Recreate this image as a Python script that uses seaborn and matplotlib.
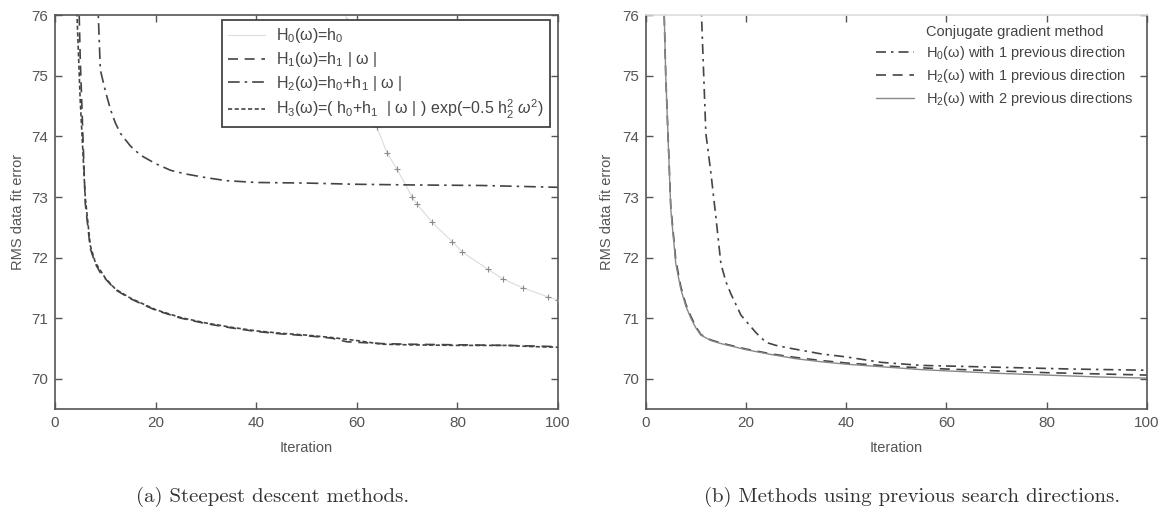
import matplotlib
matplotlib.use("Agg")
import matplotlib.pyplot as plt
from matplotlib.lines import Line2D
import seaborn as sns
import pandas as pd

# (a) steepest descent, RMS data fit error per iteration
it_h0 = [56, 58, 60, 62, 64, 66, 68, 71, 72, 75, 79, 81, 86, 89, 93, 98, 100]
rms_h0 = [76.8, 75.9, 75.2, 74.6, 74.15, 73.73, 73.46, 73.0, 72.88, 72.58, 72.26,
          72.09, 71.81, 71.65, 71.5, 71.35, 71.3]

it_h1 = [4, 5, 6, 7, 8, 9, 10, 12, 15, 20, 25, 30, 35, 40, 45, 50, 55, 58, 65, 70, 80, 90, 100]
rms_h1 = [78.8, 75.3, 72.9, 72.15, 71.9, 71.75, 71.65, 71.47, 71.32, 71.13, 71.0, 70.91,
          70.84, 70.78, 70.74, 70.71, 70.67, 70.61, 70.58, 70.57, 70.56, 70.55, 70.53]

it_h2 = [8, 9, 10, 11, 12, 13, 15, 17, 20, 23, 26, 30, 34, 40, 50, 60, 70, 85, 100]
rms_h2 = [77.35, 75.1, 74.75, 74.45, 74.22, 74.05, 73.84, 73.69, 73.55, 73.44, 73.38,
          73.32, 73.27, 73.24, 73.23, 73.21, 73.2, 73.19, 73.16]

it_h3 = [4, 5, 6, 7, 8, 10, 12, 15, 20, 25, 30, 35, 40, 45, 50, 55, 60, 65, 70, 80, 90, 95, 100]
rms_h3 = [76.8, 74.6, 73.0, 72.2, 71.92, 71.66, 71.48, 71.33, 71.14, 71.01, 70.92, 70.85,
          70.79, 70.75, 70.72, 70.68, 70.63, 70.57, 70.56, 70.55, 70.55, 70.53, 70.52]

labels_a = ["$\\mathrm{H}_0$(ω)=$\\mathrm{h}_0$",
            "$\\mathrm{H}_1$(ω)=$\\mathrm{h}_1$ | ω |",
            "$\\mathrm{H}_2$(ω)=$\\mathrm{h}_0$+$\\mathrm{h}_1$ | ω |",
            "$\\mathrm{H}_3$(ω)=( $\\mathrm{h}_0$+$\\mathrm{h}_1$  | ω | ) exp(−0.5 $\\mathrm{h}_2^2$ $\\omega^2$)"]

# (b) methods using previous search directions
it_cg0 = [10, 11, 12, 13, 14, 15, 16, 17, 19, 22, 24, 26, 29, 35, 40, 47, 55, 70, 85, 100]
rms_cg0 = [80.0, 76.3, 74.05, 73.4, 72.67, 71.9, 71.6, 71.4, 71.05, 70.76, 70.6, 70.55,
           70.5, 70.41, 70.36, 70.27, 70.22, 70.19, 70.16, 70.14]

it_cg2 = [3, 4, 5, 6, 7, 8, 9, 10, 11, 13, 15, 17, 20, 25, 30, 35, 40, 45, 50, 55, 60, 70, 80, 90, 100]
rms_cg2a = [78.25, 75.0, 72.85, 71.96, 71.52, 71.23, 71.03, 70.86, 70.73, 70.64, 70.59, 70.55,
            70.49, 70.41, 70.35, 70.3, 70.26, 70.23, 70.2, 70.18, 70.16, 70.13, 70.1, 70.08, 70.06]
rms_cg2b = [78.3, 75.0, 72.8, 71.9, 71.48, 71.2, 71.0, 70.84, 70.72, 70.63, 70.58, 70.54,
            70.48, 70.4, 70.33, 70.28, 70.24, 70.21, 70.18, 70.15, 70.13, 70.09, 70.06, 70.03, 70.01]

labels_b = ["Conjugate gradient method",
            "$\\mathrm{H}_0$(ω) with 1 previous direction",
            "$\\mathrm{H}_2$(ω) with 1 previous direction",
            "$\\mathrm{H}_2$(ω) with 2 previous directions"]

xticks = [0, 20, 40, 60, 80, 100]
yticks = [70, 71, 72, 73, 74, 75, 76]

sns.set_style("ticks")
plt.rcParams["font.family"] = ["Liberation Sans", "DejaVu Sans"]
plt.rcParams["mathtext.fontset"] = "custom"
plt.rcParams["mathtext.rm"] = "Liberation Sans"
plt.rcParams["mathtext.it"] = "Liberation Sans:italic"

ink = "#444444"
fig = plt.figure(figsize=(11.74, 5.13), dpi=100)
ax1 = fig.add_axes([0.0469, 0.2027, 0.4284, 0.7675])
ax2 = fig.add_axes([0.55, 0.2027, 0.427, 0.7675])


def curve(ax, x, y, **kw):
    df = pd.DataFrame({"iteration": x, "rms": y})
    sns.lineplot(data=df, x="iteration", y="rms", ax=ax, sort=False,
                 estimator=None, color=kw.pop("color", ink), lw=kw.pop("lw", 1.2), **kw)


curve(ax1, it_h0, rms_h0, color="#dcdcdc", lw=0.8, label=labels_a[0])
ax1.scatter(it_h0, rms_h0, marker="+", s=22, color="#8a8a8a", lw=0.8, zorder=3)
curve(ax1, it_h1, rms_h1, linestyle=(0, (6, 4)), label=labels_a[1])
curve(ax1, it_h2, rms_h2, linestyle=(0, (7, 3, 1.5, 3)), label=labels_a[2])
curve(ax1, it_h3, rms_h3, linestyle=(0, (2.5, 1.5)), label=labels_a[3])

curve(ax2, it_cg0, rms_cg0, linestyle=(0, (6, 3, 1.5, 3)), label=labels_b[1])
curve(ax2, it_cg2, rms_cg2a, linestyle=(0, (6, 4)), label=labels_b[2])
curve(ax2, it_cg2, rms_cg2b, color="#888888", lw=1.0, label=labels_b[3])

for ax in (ax1, ax2):
    ax.set_xlim(0, 100)
    ax.set_ylim(69.5, 76)
    ax.set_xticks(xticks)
    ax.set_yticks(yticks)
    ax.tick_params(direction="in", length=5, width=1, colors="#555555",
                   labelsize=11, top=True, right=True, pad=5)
    for s in ax.spines.values():
        s.set_visible(True)
        s.set_color("#555555")
        s.set_linewidth(1.2)
    ax.set_xlabel("Iteration", fontsize=10.5, color="#555555")
    ax.set_ylabel("RMS data fit error", fontsize=10.5, color="#555555")
    ax.xaxis.set_label_coords(0.5, -0.082)
    ax.set_facecolor("white")

ax1.yaxis.set_label_coords(-0.060, 0.5)
ax2.yaxis.set_label_coords(-0.063, 0.5)
ax2.spines["top"].set_color("#dddddd")

leg1 = ax1.legend(loc="upper right", bbox_to_anchor=(0.985, 0.988), borderaxespad=0,
                  fontsize=11.5, frameon=True, fancybox=False, framealpha=1,
                  edgecolor="#444444", handlelength=2.3, handletextpad=0.7,
                  labelspacing=0.3, borderpad=0.4)
leg1.get_frame().set_linewidth(1.3)

h, l = ax2.get_legend_handles_labels()
blank = Line2D([], [], linestyle="none")
leg2 = ax2.legend([blank] + h, [labels_b[0]] + l, loc="upper right",
                  bbox_to_anchor=(0.985, 0.99), borderaxespad=0, fontsize=10.5,
                  frameon=False, handlelength=2.6, labelspacing=0.35)
for leg in (leg1, leg2):
    for t in leg.get_texts():
        t.set_color("#444444")

fig.text(0.232, 0.031, "(a) Steepest descent methods.", family="cmr10",
         fontsize=15, ha="center", va="center", color="#333333")
fig.text(0.777, 0.031, "(b) Methods using previous search directions.", family="cmr10",
         fontsize=15, ha="center", va="center", color="#333333")

fig.savefig("out.png", dpi=100, facecolor="white")
